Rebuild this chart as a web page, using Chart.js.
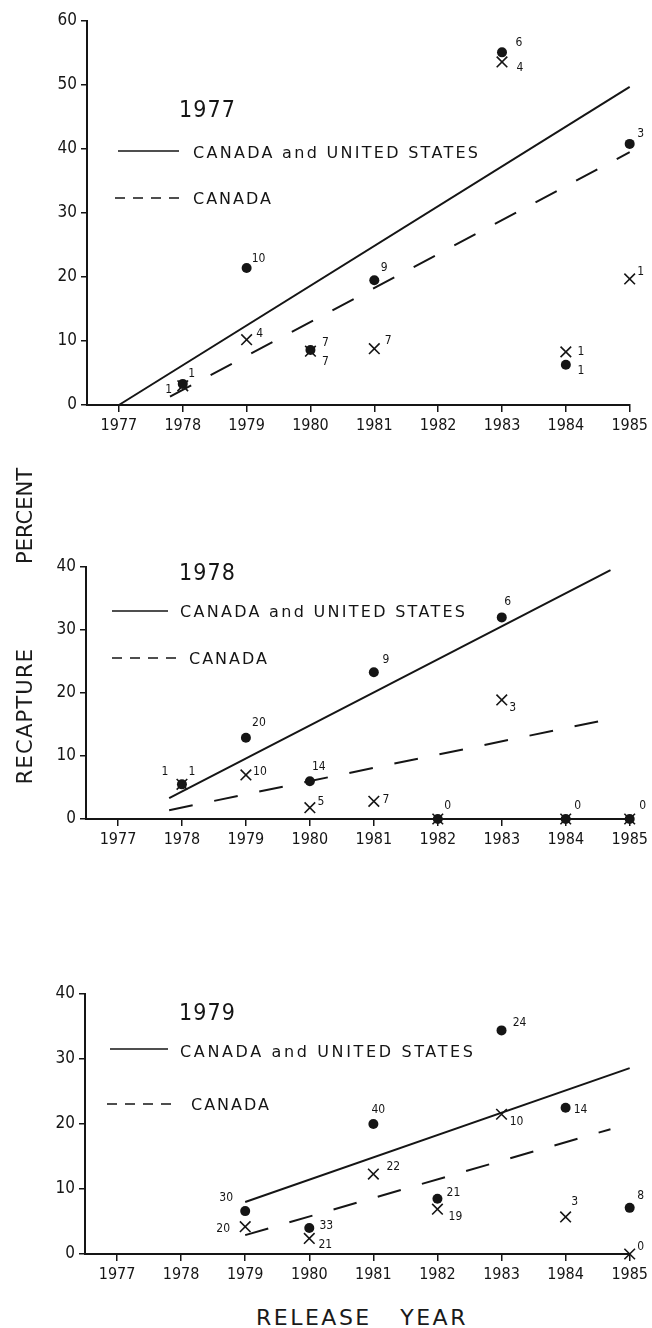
<!DOCTYPE html>
<html lang="en">
<head>
    <meta charset="UTF-8">
    <title>Recapture percent by release year</title>
    <script src="https://cdn.jsdelivr.net/npm/chart.js@4.4.1/dist/chart.umd.min.js"></script>
    <style>
        body { margin: 0; background: #fff; }
        #page { position: relative; width: 652px; height: 1328px; overflow: hidden; }
        canvas { position: absolute; left: 0; }
        .axisName {
            position: absolute;
            font-family: "DejaVu Sans", sans-serif;
            color: #1a1a1a;
            white-space: pre;
            line-height: 1;
        }
        .vert { left: 25px; font-size: 21px; transform: translate(-50%, -50%) rotate(-90deg); }
        #yName1 { top: 716px; letter-spacing: 1.2px; }
        #yName2 { top: 516px; letter-spacing: 0px; }
        #xName {
            left: 256px; top: 1307px;
            font-size: 22px; letter-spacing: 2.5px;
        }
    </style>
</head>
<body>
<div id="page">
    <canvas id="c77" width="652" height="440" style="top:0px"></canvas>
    <canvas id="c78" width="652" height="420" style="top:440px"></canvas>
    <canvas id="c79" width="652" height="420" style="top:880px"></canvas>
    <div class="axisName vert" id="yName1">RECAPTURE</div>
    <div class="axisName vert" id="yName2">PERCENT</div>
    <div class="axisName" id="xName">RELEASE   YEAR</div>
</div>

<script>
    const years = [1977, 1978, 1979, 1980, 1981, 1982, 1983, 1984, 1985];

    // fish released in 1977
    const dotYears77 = [1978, 1979, 1980, 1981, 1983, 1984, 1985];
    const dotPct77 = [3.3, 21.4, 8.6, 19.5, 55.1, 6.3, 40.8];
    const dotN77 = ['1', '10', '7', '9', '6', '1', '3'];
    const crossYears77 = [1978, 1979, 1980, 1981, 1983, 1984, 1985];
    const crossPct77 = [3.0, 10.2, 8.4, 8.8, 53.6, 8.3, 19.7];
    const crossN77 = ['1', '4', '7', '7', '4', '1', '1'];
    const fitYears77 = [1977, 1985];
    const fitAll77 = [0, 49.7];
    const fitCanYears77 = [1977.8, 1985];
    const fitCan77 = [1.3, 39.5];

    // fish released in 1978
    const dotYears78 = [1978, 1979, 1980, 1981, 1982, 1983, 1984, 1985];
    const dotPct78 = [5.5, 12.9, 6.0, 23.3, 0, 32.0, 0, 0];
    const dotN78 = ['1', '20', '14', '9', '0', '6', '0', '0'];
    const crossYears78 = [1978, 1979, 1980, 1981, 1982, 1983, 1984, 1985];
    const crossPct78 = [5.5, 7.0, 1.8, 2.8, 0, 18.9, 0, 0];
    const crossN78 = ['1', '10', '5', '7', '', '3', '', ''];
    const fitYears78 = [1977.8, 1984.7];
    const fitAll78 = [3.3, 39.5];
    const fitCanYears78 = [1977.8, 1984.8];
    const fitCan78 = [1.4, 16.1];

    // fish released in 1979
    const dotYears79 = [1979, 1980, 1981, 1982, 1983, 1984, 1985];
    const dotPct79 = [6.6, 4.0, 20.0, 8.5, 34.4, 22.5, 7.1];
    const dotN79 = ['30', '33', '40', '21', '24', '14', '8'];
    const crossYears79 = [1979, 1980, 1981, 1982, 1983, 1984, 1985];
    const crossPct79 = [4.2, 2.4, 12.3, 6.9, 21.5, 5.7, 0];
    const crossN79 = ['20', '21', '22', '19', '10', '3', '0'];
    const fitYears79 = [1979, 1985];
    const fitAll79 = [8.0, 28.6];
    const fitCanYears79 = [1979, 1984.7];
    const fitCan79 = [2.9, 19.2];

    // where each count sits relative to its marker (px)
    const dotTagOff77 = [[9, -10], [12, -9], [15, -7], [10, -12], [17, -9], [15, 6], [11, -10]];
    const crossTagOff77 = [[-14, 4], [13, -6], [15, 11], [14, -8], [18, 6], [15, 0], [11, -7]];
    const dotTagOff78 = [[10, -12], [13, -15], [9, -14], [12, -12], [10, -13], [6, -16], [12, -13], [13, -13]];
    const crossTagOff78 = [[-17, -12], [14, -3], [11, -6], [12, -1], [0, 0], [11, 8], [0, 0], [0, 0]];
    const dotTagOff79 = [[-19, -13], [17, -2], [5, -14], [16, -6], [18, -8], [15, 2], [11, -12]];
    const crossTagOff79 = [[-22, 2], [16, 6], [20, -7], [18, 8], [15, 8], [9, -15], [11, -7]];

    const INK = '#151515';
    const FONT = '"DejaVu Sans Condensed", "DejaVu Sans", sans-serif';
    const KEY_FONT = '"DejaVu Sans", sans-serif';

    function pts(xs, ys) {
        return xs.map((x, i) => ({ x: x, y: ys[i] }));
    }

    function fillSpaced(ctx, text, x, y, width) {
        if ('letterSpacing' in ctx && width) {
            ctx.letterSpacing = '0px';
            const w = ctx.measureText(text).width;
            const sp = Math.max(0, (width - w) / (text.length - 1));
            ctx.letterSpacing = sp + 'px';
        }
        ctx.fillText(text, x, y);
        if ('letterSpacing' in ctx) ctx.letterSpacing = '0px';
    }

    // counts beside the markers, plus the year title and line key
    const annotate = {
        id: 'annotate',
        afterDatasetsDraw(chart, args, o) {
            const ctx = chart.ctx;
            ctx.save();
            ctx.fillStyle = INK;
            ctx.strokeStyle = INK;

            ctx.font = '12px ' + FONT;
            ctx.textAlign = 'center';
            ctx.textBaseline = 'middle';
            o.tags.forEach(t => {
                chart.getDatasetMeta(t.ds).data.forEach((el, i) => {
                    const txt = t.text[i];
                    if (!txt) return;
                    ctx.fillText(txt, el.x + t.off[i][0], el.y + t.off[i][1]);
                });
            });

            const k = o.key;
            ctx.textAlign = 'left';
            ctx.textBaseline = 'alphabetic';
            ctx.font = '23px ' + FONT;
            fillSpaced(ctx, k.title, k.titleX, k.titleY, 56);

            ctx.lineWidth = 1.6;
            ctx.setLineDash([]);
            ctx.beginPath();
            ctx.moveTo(k.solid[0], k.solid[2]);
            ctx.lineTo(k.solid[1], k.solid[2]);
            ctx.stroke();
            ctx.setLineDash([10, 8]);
            ctx.beginPath();
            ctx.moveTo(k.dash[0], k.dash[2]);
            ctx.lineTo(k.dash[1], k.dash[2]);
            ctx.stroke();
            ctx.setLineDash([]);

            ctx.font = '16px ' + KEY_FONT;
            fillSpaced(ctx, 'CANADA and UNITED STATES', k.solidText[0], k.solidText[1], k.solidText[2]);
            fillSpaced(ctx, 'CANADA', k.dashText[0], k.dashText[1], 78);
            ctx.restore();
        }
    };

    function makePanel(id, d, box, key) {
        const canvas = document.getElementById(id);
        const H = canvas.height;
        return new Chart(canvas.getContext('2d'), {
            type: 'scatter',
            data: {
                datasets: [
                    {
                        data: pts(d.dotX, d.dotY),
                        pointStyle: 'circle',
                        pointRadius: 5,
                        backgroundColor: INK,
                        borderColor: INK,
                        borderWidth: 0,
                        clip: false
                    },
                    {
                        data: pts(d.crossX, d.crossY),
                        pointStyle: 'crossRot',
                        pointRadius: 7.5,
                        borderColor: INK,
                        borderWidth: 1.6,
                        clip: false
                    },
                    {
                        data: pts(d.fitX, d.fitY),
                        showLine: true,
                        pointRadius: 0,
                        borderColor: INK,
                        borderWidth: 2,
                        clip: false
                    },
                    {
                        data: pts(d.canX, d.canY),
                        showLine: true,
                        pointRadius: 0,
                        borderColor: INK,
                        borderWidth: 2,
                        borderDash: [24, 22],
                        clip: false
                    }
                ]
            },
            options: {
                responsive: false,
                animation: false,
                events: [],
                layout: { padding: { left: 0, right: 652 - box.right, top: box.top, bottom: 0 } },
                plugins: {
                    legend: { display: false },
                    tooltip: { enabled: false },
                    annotate: {
                        tags: [
                            { ds: 0, text: d.dotN, off: d.dotOff },
                            { ds: 1, text: d.crossN, off: d.crossOff }
                        ],
                        key: key
                    }
                },
                scales: {
                    x: {
                        type: 'linear',
                        min: 1976.5,
                        max: 1985,
                        afterBuildTicks: s => { s.ticks = years.map(v => ({ value: v })); },
                        afterFit: s => { s.height = H - box.bottom; },
                        grid: { display: true, drawOnChartArea: false, drawTicks: true, tickLength: 7, color: INK, lineWidth: 1.5 },
                        border: { display: true, color: INK, width: 2 },
                        ticks: {
                            callback: v => String(v),
                            color: INK,
                            padding: 4,
                            maxRotation: 0,
                            autoSkip: false,
                            font: { family: FONT, size: 16 }
                        }
                    },
                    y: {
                        min: 0,
                        max: d.yMax,
                        afterFit: s => { s.width = box.left; },
                        grid: { display: true, drawOnChartArea: false, drawTicks: true, tickLength: 6, color: INK, lineWidth: 1.5 },
                        border: { display: true, color: INK, width: 2 },
                        ticks: {
                            stepSize: 10,
                            color: INK,
                            padding: 4,
                            font: { family: FONT, size: 17 }
                        }
                    }
                }
            },
            plugins: [annotate]
        });
    }

    makePanel('c77', {
        dotX: dotYears77, dotY: dotPct77, dotN: dotN77, dotOff: dotTagOff77,
        crossX: crossYears77, crossY: crossPct77, crossN: crossN77, crossOff: crossTagOff77,
        fitX: fitYears77, fitY: fitAll77, canX: fitCanYears77, canY: fitCan77, yMax: 60
    }, { left: 87, right: 631, top: 21, bottom: 405 }, {
        title: '1977', titleX: 179, titleY: 117,
        solid: [118, 179, 151], solidText: [193, 158, 285],
        dash: [115, 183, 198], dashText: [193, 204]
    });

    makePanel('c78', {
        dotX: dotYears78, dotY: dotPct78, dotN: dotN78, dotOff: dotTagOff78,
        crossX: crossYears78, crossY: crossPct78, crossN: crossN78, crossOff: crossTagOff78,
        fitX: fitYears78, fitY: fitAll78, canX: fitCanYears78, canY: fitCan78, yMax: 40
    }, { left: 86, right: 632, top: 127, bottom: 379 }, {
        title: '1978', titleX: 179, titleY: 140,
        solid: [112, 168, 171], solidText: [180, 177, 285],
        dash: [112, 177, 218], dashText: [189, 224]
    });

    makePanel('c79', {
        dotX: dotYears79, dotY: dotPct79, dotN: dotN79, dotOff: dotTagOff79,
        crossX: crossYears79, crossY: crossPct79, crossN: crossN79, crossOff: crossTagOff79,
        fitX: fitYears79, fitY: fitAll79, canX: fitCanYears79, canY: fitCan79, yMax: 40
    }, { left: 85, right: 631, top: 114, bottom: 374 }, {
        title: '1979', titleX: 179, titleY: 140,
        solid: [110, 168, 169], solidText: [180, 177, 293],
        dash: [107, 178, 224], dashText: [191, 230]
    });
</script>
</body>
</html>
